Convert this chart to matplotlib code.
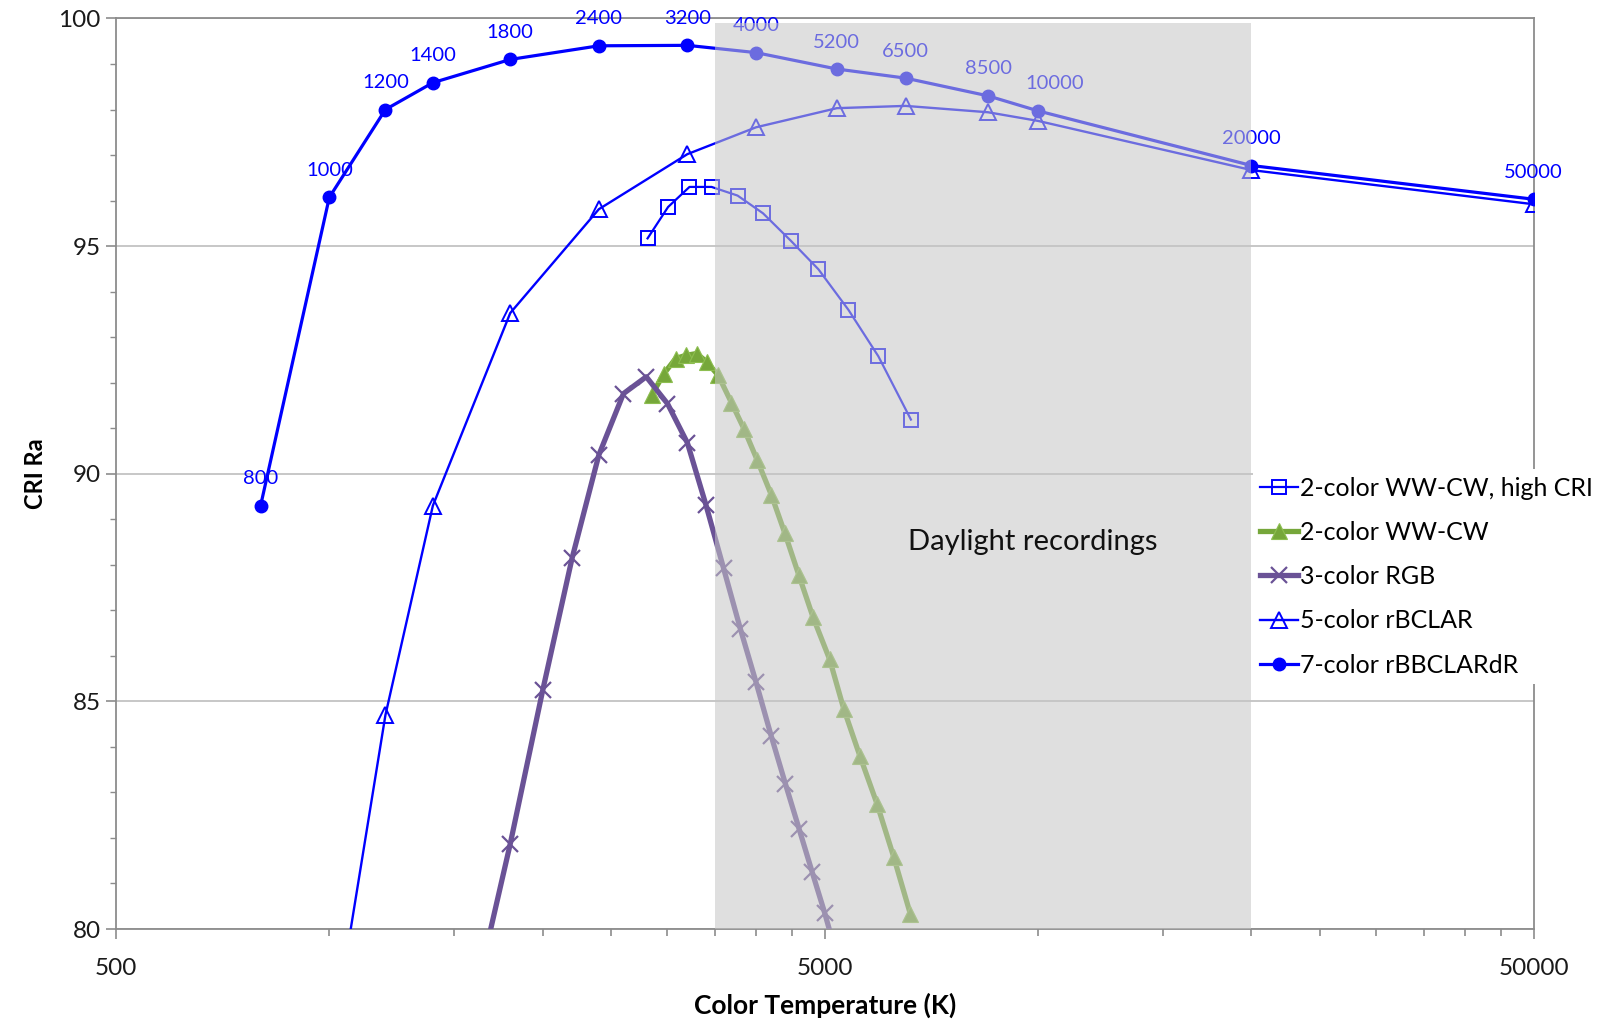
import numpy as np
import matplotlib.pyplot as plt
from matplotlib.ticker import NullFormatter

plt.rcParams['font.family'] = ['Lato', 'DejaVu Sans']

# 7-color rBBCLARdR (filled circles, labelled with CCT)
cct_7 = [800, 1000, 1200, 1400, 1800, 2400, 3200, 4000, 5200, 6500, 8500, 10000, 20000, 50000]
cri_7 = [89.3, 96.07, 98.0, 98.59, 99.1, 99.4, 99.41, 99.25, 98.89, 98.69, 98.3, 97.97, 96.77, 96.03]

# 5-color rBCLAR (open triangles)
cct_5 = [1000, 1200, 1400, 1800, 2400, 3200, 4000, 5200, 6500, 8500, 10000, 20000, 50000]
cri_5 = [77.1, 84.7, 89.3, 93.53, 95.81, 97.02, 97.61, 98.03, 98.08, 97.94, 97.75, 96.67, 95.92]

# 2-color WW-CW, high CRI (open squares)
cct_2h = [2812, 3006, 3222, 3462, 3767, 4092, 4477, 4899, 5400, 5951, 6615]
cri_2h = [95.17, 95.86, 96.3, 96.3, 96.11, 95.72, 95.12, 94.49, 93.6, 92.58, 91.19]

# 2-color WW-CW (green triangles)
cct_2 = [2850, 2966, 3080, 3182, 3298, 3406, 3538, 3693, 3845, 4015, 4205, 4393,
         4597, 4813, 5081, 5317, 5602, 5925, 6256, 6603]
cri_2 = [91.73, 92.2, 92.53, 92.6, 92.64, 92.46, 92.16, 91.56, 90.99, 90.3, 89.53, 88.69,
         87.77, 86.85, 85.92, 84.84, 83.81, 82.75, 81.58, 80.33]

# 3-color RGB (x markers)
cct_3 = [1600, 1800, 2000, 2200, 2400, 2600, 2800, 3000, 3200, 3400, 3600, 3800,
         4000, 4200, 4400, 4600, 4800, 5000, 5200]
cri_3 = [78.4, 81.87, 85.24, 88.14, 90.41, 91.76, 92.13, 91.54, 90.68, 89.31, 87.92, 86.6,
         85.42, 84.25, 83.19, 82.2, 81.25, 80.35, 79.4]

point_labels = [str(c) for c in cct_7]

blue = '#0000FF'
green = '#76A73A'
purple = '#6A5296'

fig = plt.figure(figsize=(16.08, 10.21), dpi=100)
ax = fig.add_axes([0.0721, 0.0901, 0.8816, 0.8918])

ax.plot(cct_2h, cri_2h, color=blue, lw=1.6, marker='s', ms=10, mfc='none', mec=blue,
        mew=1.4, label='2-color WW-CW, high CRI', zorder=3)
ax.plot(cct_2, cri_2, color=green, lw=3.8, marker='^', ms=12, mfc=green, mec='#8DBE50',
        mew=0.8, label='2-color WW-CW', zorder=3)
ax.plot(cct_3, cri_3, color=purple, lw=3.8, marker='x', ms=12, mec=purple, mew=1.6,
        label='3-color RGB', zorder=3)
ax.plot(cct_5, cri_5, color=blue, lw=1.7, marker='^', ms=11, mfc='none', mec=blue,
        mew=1.4, label='5-color rBCLAR', zorder=3)
ax.plot(cct_7, cri_7, color=blue, lw=2.3, marker='o', ms=9, mfc=blue, mec=blue,
        label='7-color rBBCLARdR', zorder=3)

for c, r, s in zip(cct_7, cri_7, point_labels):
    dx = 17 if c == 10000 else 0
    ax.annotate(s, (c, r), xytext=(dx, 27), textcoords='offset pixels',
                ha='center', va='center', color=blue, fontsize=14.5, zorder=4)

# daylight band drawn on top, semi-transparent
ax.fill_between([3500, 20000], 80, 99.9, color='#C6C6C6', alpha=0.55, lw=0, zorder=5)
ax.text(6544, 88.5, 'Daylight recordings', fontsize=21, ha='left', va='center',
        color='#111111', zorder=6)

ax.set_xscale('log')
ax.set_xlim(500, 50000)
ax.set_ylim(80, 100)
ax.set_xticks([500, 5000, 50000])
ax.set_xticklabels(['500', '5000', '50000'])
ax.set_xticks([500 * k for k in range(2, 10)] + [5000 * k for k in range(2, 10)], minor=True)
ax.xaxis.set_minor_formatter(NullFormatter())
ax.set_yticks([80, 85, 90, 95, 100])
ax.set_yticks(np.arange(80, 101, 1), minor=True)

ax.grid(axis='y', which='major', color='#BDBDBD', lw=1.2, zorder=1)
ax.set_axisbelow(True)
for sp in ax.spines.values():
    sp.set_color('#8C8C8C')
    sp.set_linewidth(1.3)

ax.tick_params(axis='both', which='major', labelsize=17.5, colors='#8C8C8C',
               labelcolor='#1A1A1A', width=1.2)
ax.tick_params(axis='x', which='major', length=7, pad=14)
ax.tick_params(axis='x', which='minor', length=5, width=1.2, colors='#8C8C8C')
ax.tick_params(axis='y', which='major', length=7, pad=4)
ax.tick_params(axis='y', which='minor', length=4, width=1.0, colors='#8C8C8C')

ax.set_xlabel('Color Temperature (K)', fontsize=19, fontweight='bold', labelpad=10)
ax.set_ylabel('CRI Ra', fontsize=17, fontweight='bold', labelpad=8)

leg = ax.legend(loc='upper left', bbox_to_anchor=(0.802, 0.505), fontsize=18,
                frameon=True, fancybox=False, handlelength=1.5, handletextpad=0.1,
                labelspacing=0.85, borderaxespad=0, borderpad=0.3)
leg.get_frame().set_facecolor('white')
leg.get_frame().set_edgecolor('none')
leg.get_frame().set_alpha(1)
leg.set_zorder(10)

plt.savefig('out.png', dpi=100)
